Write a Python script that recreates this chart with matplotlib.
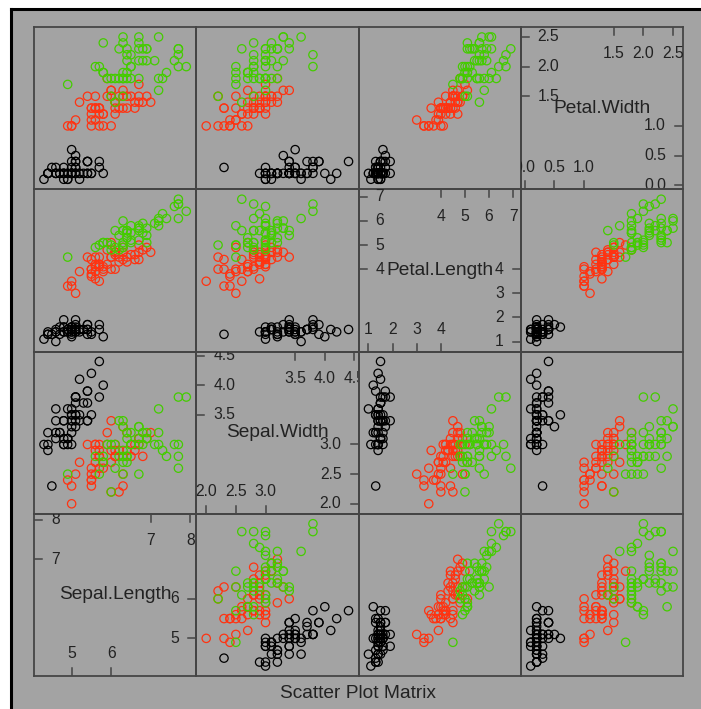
#!/usr/bin/env python3

import math
import numpy as np
import matplotlib
matplotlib.use('Agg')
import matplotlib.pyplot as plt
from matplotlib.patches import Rectangle
from matplotlib.lines import Line2D
from matplotlib.transforms import blended_transform_factory

plt.rcParams['font.family'] = ['Liberation Sans', 'DejaVu Sans']

# iris measurements, 50 rows per species (setosa, versicolor, virginica)
sepal_length = [
    5.1, 4.9, 4.7, 4.6, 5.0, 5.4, 4.6, 5.0, 4.4, 4.9, 5.4, 4.8, 4.8, 4.3, 5.8, 5.7, 5.4, 5.1, 5.7, 5.1, 5.4, 5.1, 4.6, 5.1, 4.8,
    5.0, 5.0, 5.2, 5.2, 4.7, 4.8, 5.4, 5.2, 5.5, 4.9, 5.0, 5.5, 4.9, 4.4, 5.1, 5.0, 4.5, 4.4, 5.0, 5.1, 4.8, 5.1, 4.6, 5.3, 5.0,
    7.0, 6.4, 6.9, 5.5, 6.5, 5.7, 6.3, 4.9, 6.6, 5.2, 5.0, 5.9, 6.0, 6.1, 5.6, 6.7, 5.6, 5.8, 6.2, 5.6, 5.9, 6.1, 6.3, 6.1, 6.4,
    6.6, 6.8, 6.7, 6.0, 5.7, 5.5, 5.5, 5.8, 6.0, 5.4, 6.0, 6.7, 6.3, 5.6, 5.5, 5.5, 6.1, 5.8, 5.0, 5.6, 5.7, 5.7, 6.2, 5.1, 5.7,
    6.3, 5.8, 7.1, 6.3, 6.5, 7.6, 4.9, 7.3, 6.7, 7.2, 6.5, 6.4, 6.8, 5.7, 5.8, 6.4, 6.5, 7.7, 7.7, 6.0, 6.9, 5.6, 7.7, 6.3, 6.7,
    7.2, 6.2, 6.1, 6.4, 7.2, 7.4, 7.9, 6.4, 6.3, 6.1, 7.7, 6.3, 6.4, 6.0, 6.9, 6.7, 6.9, 5.8, 6.8, 6.7, 6.7, 6.3, 6.5, 6.2, 5.9]
sepal_width = [
    3.5, 3.0, 3.2, 3.1, 3.6, 3.9, 3.4, 3.4, 2.9, 3.1, 3.7, 3.4, 3.0, 3.0, 4.0, 4.4, 3.9, 3.5, 3.8, 3.8, 3.4, 3.7, 3.6, 3.3, 3.4,
    3.0, 3.4, 3.5, 3.4, 3.2, 3.1, 3.4, 4.1, 4.2, 3.1, 3.2, 3.5, 3.6, 3.0, 3.4, 3.5, 2.3, 3.2, 3.5, 3.8, 3.0, 3.8, 3.2, 3.7, 3.3,
    3.2, 3.2, 3.1, 2.3, 2.8, 2.8, 3.3, 2.4, 2.9, 2.7, 2.0, 3.0, 2.2, 2.9, 2.9, 3.1, 3.0, 2.7, 2.2, 2.5, 3.2, 2.8, 2.5, 2.8, 2.9,
    3.0, 2.8, 3.0, 2.9, 2.6, 2.4, 2.4, 2.7, 2.7, 3.0, 3.4, 3.1, 2.3, 3.0, 2.5, 2.6, 3.0, 2.6, 2.3, 2.7, 3.0, 2.9, 2.9, 2.5, 2.8,
    3.3, 2.7, 3.0, 2.9, 3.0, 3.0, 2.5, 2.9, 2.5, 3.6, 3.2, 2.7, 3.0, 2.5, 2.8, 3.2, 3.0, 3.8, 2.6, 2.2, 3.2, 2.8, 2.8, 2.7, 3.3,
    3.2, 2.8, 3.0, 2.8, 3.0, 2.8, 3.8, 2.8, 2.8, 2.6, 3.0, 3.4, 3.1, 3.0, 3.1, 3.1, 3.1, 2.7, 3.2, 3.3, 3.0, 2.5, 3.0, 3.4, 3.0]
petal_length = [
    1.4, 1.4, 1.3, 1.5, 1.4, 1.7, 1.4, 1.5, 1.4, 1.5, 1.5, 1.6, 1.4, 1.1, 1.2, 1.5, 1.3, 1.4, 1.7, 1.5, 1.7, 1.5, 1.0, 1.7, 1.9,
    1.6, 1.6, 1.5, 1.4, 1.6, 1.6, 1.5, 1.5, 1.4, 1.5, 1.2, 1.3, 1.4, 1.3, 1.5, 1.3, 1.3, 1.3, 1.6, 1.9, 1.4, 1.6, 1.4, 1.5, 1.4,
    4.7, 4.5, 4.9, 4.0, 4.6, 4.5, 4.7, 3.3, 4.6, 3.9, 3.5, 4.2, 4.0, 4.7, 3.6, 4.4, 4.5, 4.1, 4.5, 3.9, 4.8, 4.0, 4.9, 4.7, 4.3,
    4.4, 4.8, 5.0, 4.5, 3.5, 3.8, 3.7, 3.9, 5.1, 4.5, 4.5, 4.7, 4.4, 4.1, 4.0, 4.4, 4.6, 4.0, 3.3, 4.2, 4.2, 4.2, 4.3, 3.0, 4.1,
    6.0, 5.1, 5.9, 5.6, 5.8, 6.6, 4.5, 6.3, 5.8, 6.1, 5.1, 5.3, 5.5, 5.0, 5.1, 5.3, 5.5, 6.7, 6.9, 5.0, 5.7, 4.9, 6.7, 4.9, 5.7,
    6.0, 4.8, 4.9, 5.6, 5.8, 6.1, 6.4, 5.6, 5.1, 5.6, 6.1, 5.6, 5.5, 4.8, 5.4, 5.6, 5.1, 5.1, 5.9, 5.7, 5.2, 5.0, 5.2, 5.4, 5.1]
petal_width = [
    0.2, 0.2, 0.2, 0.2, 0.2, 0.4, 0.3, 0.2, 0.2, 0.1, 0.2, 0.2, 0.1, 0.1, 0.2, 0.4, 0.4, 0.3, 0.3, 0.3, 0.2, 0.4, 0.2, 0.5, 0.2,
    0.2, 0.4, 0.2, 0.2, 0.2, 0.2, 0.4, 0.1, 0.2, 0.2, 0.2, 0.2, 0.1, 0.2, 0.2, 0.3, 0.3, 0.2, 0.6, 0.4, 0.3, 0.2, 0.2, 0.2, 0.2,
    1.4, 1.5, 1.5, 1.3, 1.5, 1.3, 1.6, 1.0, 1.3, 1.4, 1.0, 1.5, 1.0, 1.4, 1.3, 1.4, 1.5, 1.0, 1.5, 1.1, 1.8, 1.3, 1.5, 1.2, 1.3,
    1.4, 1.4, 1.7, 1.5, 1.0, 1.1, 1.0, 1.2, 1.6, 1.5, 1.6, 1.5, 1.3, 1.3, 1.3, 1.2, 1.4, 1.2, 1.0, 1.3, 1.2, 1.3, 1.3, 1.1, 1.3,
    2.5, 1.9, 2.1, 1.8, 2.2, 2.1, 1.7, 1.8, 1.8, 2.5, 2.0, 1.9, 2.1, 2.0, 2.4, 2.3, 1.8, 2.2, 2.3, 1.5, 2.3, 2.0, 2.0, 1.8, 2.1,
    1.8, 1.8, 1.8, 2.1, 1.6, 1.9, 2.0, 2.2, 1.5, 1.4, 2.3, 2.4, 1.8, 1.8, 2.1, 2.4, 2.3, 1.9, 2.3, 2.5, 2.3, 1.9, 2.0, 2.3, 1.8]

species = ['setosa', 'versicolor', 'virginica']
species_colors = ['#000000', '#ff3311', '#44cc00']
per_species = 50

var_names = ['Sepal.Length', 'Sepal.Width', 'Petal.Length', 'Petal.Width']
var_ticks = [[5, 6, 7, 8],
             [2.0, 2.5, 3.0, 3.5, 4.0, 4.5],
             [1, 2, 3, 4, 5, 6, 7],
             [0.0, 0.5, 1.0, 1.5, 2.0, 2.5]]
var_tick_labels = [['5', '6', '7', '8'],
                   ['2.0', '2.5', '3.0', '3.5', '4.0', '4.5'],
                   ['1', '2', '3', '4', '5', '6', '7'],
                   ['0.0', '0.5', '1.0', '1.5', '2.0', '2.5']]

data = [np.array(sepal_length), np.array(sepal_width),
        np.array(petal_length), np.array(petal_width)]

# axis limits padded 7% each side
limits = []
for v in data:
    lo, hi = v.min(), v.max()
    pad = 0.07 * (hi - lo)
    limits.append((lo - pad, hi + pad))

W, H = 701, 709
fig = plt.figure(figsize=(W / 100, H / 100), dpi=100, facecolor='white')

# grey page, black edge only on top and left
fig.patches.append(Rectangle((11 / W, 0), 1.0, 1 - 9 / H, transform=fig.transFigure,
                             facecolor='#a3a3a3', edgecolor='none', zorder=-10))
fig.lines.append(Line2D([11 / W, 11 / W], [0, 1 - 9 / H], transform=fig.transFigure,
                        color='black', linewidth=2.2, solid_capstyle='projecting'))
fig.lines.append(Line2D([11 / W, 1], [1 - 9 / H, 1 - 9 / H], transform=fig.transFigure,
                        color='black', linewidth=2.2, solid_capstyle='projecting'))

frame_col = '#454545'
text_col = '#222222'
x0, y0 = 34, 27
cell = (683 - 34) / 4.0
tick_len = 8 / cell

for r in range(4):
    for c in range(4):
        left = (x0 + c * cell) / W
        bottom = (H - (y0 + (r + 1) * cell)) / H
        ax = fig.add_axes([left, bottom, cell / W, cell / H])
        ax.set_facecolor('none')
        for sp in ax.spines.values():
            sp.set_color(frame_col)
            sp.set_linewidth(1.3)
        ax.set_xticks([])
        ax.set_yticks([])
        xi = c
        yi = 3 - r
        ax.set_xlim(limits[xi])
        ax.set_ylim(limits[yi])

        if xi != yi:
            for k, col in enumerate(species_colors):
                sl = slice(k * per_species, (k + 1) * per_species)
                ax.scatter(data[xi][sl], data[yi][sl], s=36, facecolors='none',
                           edgecolors=col, linewidths=0.9)
            continue

        # diagonal: variable name plus split axis labels
        ax.text(0.5, 0.5, var_names[xi], transform=ax.transAxes, ha='center', va='center',
                fontsize=13.8, color=text_col)
        ticks = var_ticks[xi]
        labels = var_tick_labels[xi]
        n = len(ticks)
        half = int(math.ceil(n / 2))
        lower = list(zip(ticks[:half], labels[:half]))
        upper = list(zip(ticks[n - half:], labels[n - half:]))
        ty = blended_transform_factory(ax.transAxes, ax.transData)
        tx = blended_transform_factory(ax.transData, ax.transAxes)
        lab_kw = dict(fontsize=11.3, color=text_col, clip_on=True)
        for v, lab in upper:
            # left side
            ax.plot([0, tick_len], [v, v], transform=ty, color=frame_col, lw=1.1, clip_on=True)
            ax.text(17 / cell, v, lab, transform=ty, ha='left', va='center', **lab_kw)
            # top side
            ax.plot([v, v], [1, 1 - tick_len], transform=tx, color=frame_col, lw=1.1, clip_on=True)
            ax.text(v, 1 - 27 / cell, lab, transform=tx, ha='center', va='center', **lab_kw)
        for v, lab in lower:
            # bottom side
            ax.plot([v, v], [0, tick_len], transform=tx, color=frame_col, lw=1.1, clip_on=True)
            ax.text(v, 22 / cell, lab, transform=tx, ha='center', va='center', **lab_kw)
            # right side
            ax.plot([1, 1 - tick_len], [v, v], transform=ty, color=frame_col, lw=1.1, clip_on=True)
            ax.text(1 - 17 / cell, v, lab, transform=ty, ha='right', va='center', **lab_kw)

fig.text(358.5 / W, 1 - 693 / H, 'Scatter Plot Matrix', ha='center', va='center',
         fontsize=13.8, color=text_col)

fig.savefig('out.png', dpi=100, facecolor=fig.get_facecolor())
